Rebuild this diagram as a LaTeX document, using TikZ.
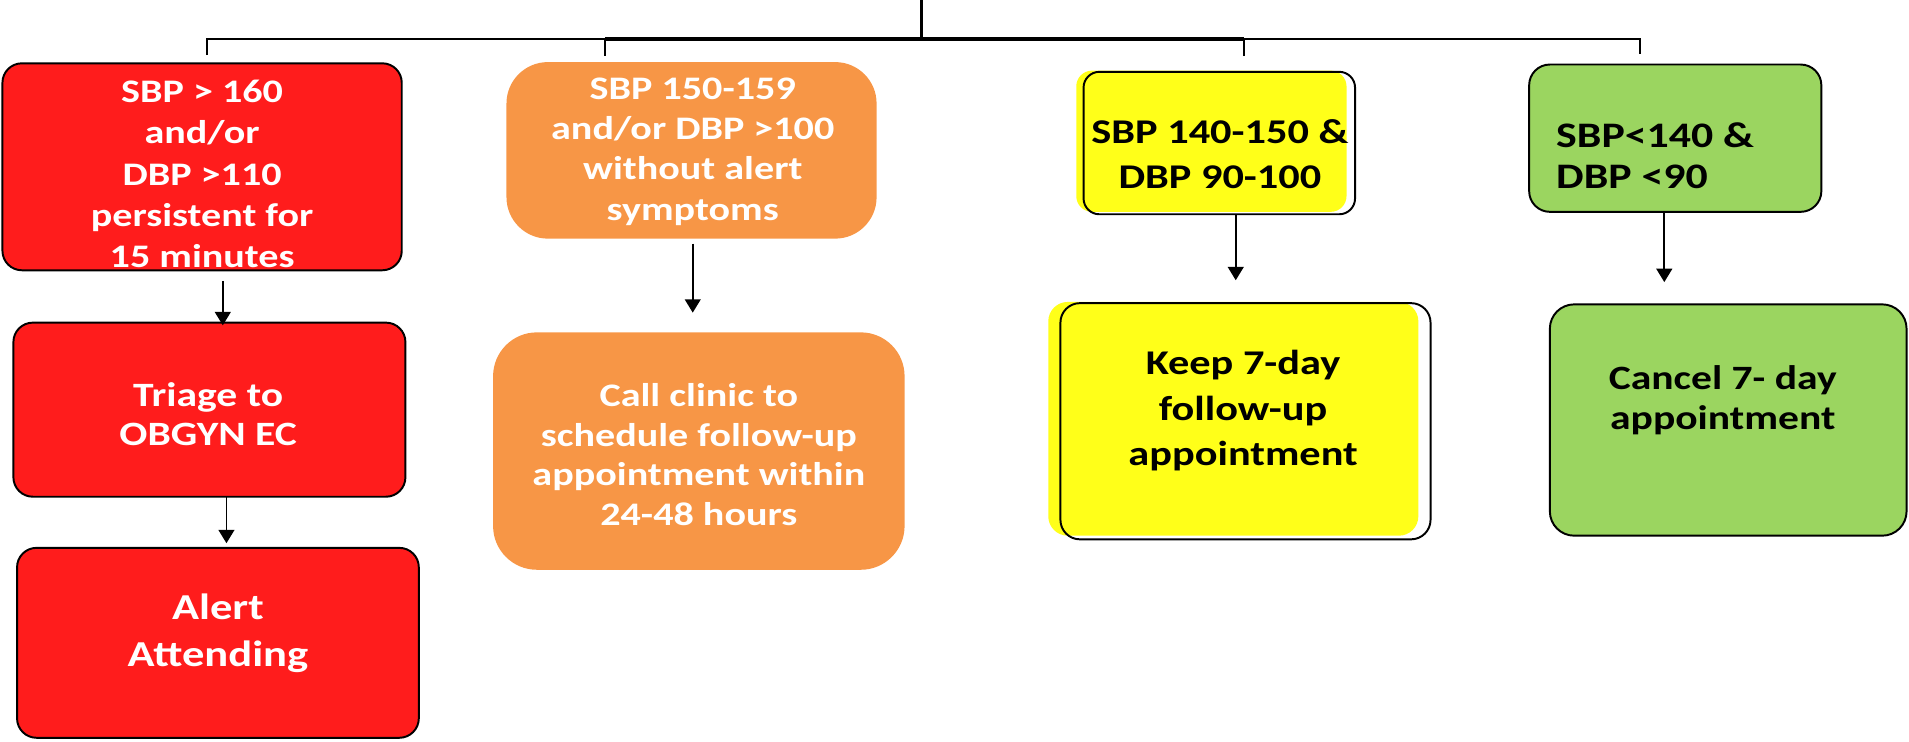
\documentclass[tikz,border=0pt]{standalone}
\usepackage{fontspec}
\setmainfont{Carlito}[FakeStretch=1.22]
\usetikzlibrary{arrows.meta,calc}
\definecolor{redc}{RGB}{255,28,28}
\definecolor{orangec}{RGB}{247,150,70}
\definecolor{yellowc}{RGB}{255,255,25}
\definecolor{greenc}{RGB}{155,213,96}
\newcommand\fsz[2]{\fontsize{#1}{#2}\selectfont\bfseries}
\begin{document}
\begin{tikzpicture}[x=1pt,y=-1pt,
  redbox/.style={draw=black, line width=1.6pt, fill=redc, rounded corners=16pt, inner sep=0pt},
  orangebox/.style={fill=orangec, rounded corners=34pt, inner sep=0pt},
  ybox/.style={draw=black, line width=1.6pt, rounded corners=13pt, inner sep=0pt},
  gbox/.style={draw=black, line width=1.6pt, fill=greenc, rounded corners=17pt, inner sep=0pt},
  wtext/.style={text=white, align=center, inner sep=0pt},
  btext/.style={text=black, align=center, inner sep=0pt},
  arr/.style={line width=1.5pt, -{Triangle[width=13pt,length=11pt]}},
  tree/.style={line width=1.8pt}]
\useasboundingbox (0,0) rectangle (1568,609);

% yellow fills (offset behind outlines)
\fill[yellowc, rounded corners=13pt] (884,58) rectangle (1106,174);
\fill[yellowc, rounded corners=16pt] (861,248) rectangle (1165,440);

% boxes
\node[redbox, minimum width=328pt, minimum height=170pt] (r1) at (166,137) {};
\node[redbox, minimum width=322pt, minimum height=143pt] (r2) at (172,336.5) {};
\node[redbox, minimum width=330pt, minimum height=156pt] (r3) at (179,528) {};
\node[orangebox, minimum width=304pt, minimum height=145pt] (o1) at (568,123.5) {};
\node[orangebox, rounded corners=36pt, minimum width=338pt, minimum height=195pt] (o2) at (574,370.5) {};
\node[ybox, minimum width=223pt, minimum height=117pt] (y1) at (1001.5,117.5) {};
\node[ybox, rounded corners=16pt, minimum width=304pt, minimum height=194pt] (y2) at (1023,346) {};
\node[gbox, minimum width=240pt, minimum height=121pt] (g1) at (1376,113.5) {};
\node[gbox, rounded corners=20pt, minimum width=293pt, minimum height=190pt] (g2) at (1419.5,345) {};

% texts
\node[wtext, font=\fsz{27}{34}] (r1t) at (166,143) {SBP > 160\\and/or\\DBP >110\\persistent for\\15 minutes};
\node[wtext, font=\fsz{28}{32}] (r2t) at (171,340) {Triage to\\OBGYN EC};
\node[wtext, font=\fsz{30}{38.5}] (r3t) at (179,520) {Alert\\Attending};
\node[wtext, font=\fsz{27}{33}] (o1t) at (569,124.5) {SBP 150-159\\and/or DBP >100\\without alert\\symptoms};
\node[wtext, font=\fsz{27}{32.5}] (o2t) at (574,373.5) {Call clinic to\\schedule follow-up\\appointment within\\24-48 hours};
\node[btext, font=\fsz{28.5}{37}] (y1t) at (1002,126.5) {SBP 140-150 \&\\DBP 90-100};
\node[btext, font=\fsz{28.5}{37.5}] (y2t) at (1021,337.5) {Keep 7-day\\follow-up\\appointment};
\node[btext, align=left, anchor=west, font=\fsz{29.5}{34}] (g1t) at (1278,128) {SBP<140 \&\\DBP <90};
\node[btext, font=\fsz{28}{33}] (g2t) at (1415,328.5) {Cancel 7- day\\appointment};

% tree at top
\coordinate (top) at (757,0);
\coordinate (hub) at (757,32);
\coordinate (d1) at ($(r1.north)+(4,-6)$);
\coordinate (d2) at ($(o1.north)+(-71,-5)$);
\coordinate (d3) at ($(y1.north)+(20.5,-12)$);
\coordinate (d4) at ($(g1.north)+(-29,-8)$);
\draw[line width=2.6pt] (top) -- (hub);
\draw[tree] (d1) |- (hub) -| (d4);
\draw[line width=2.8pt] (d2 |- hub) -- (d3 |- hub);
\draw[tree] (d2) -- (d2 |- hub);
\draw[tree] (d3) -- (d3 |- hub);

% arrows
\draw[arr] ($(r1.south)+(17,8)$) -- ($(r2.north)+(11,3)$);
\draw[arr] ($(r2.south)+(14,-1)$) -- ($(r3.north)+(7,-3)$);
\draw[arr] ($(o1.south)+(1,4)$) -- ($(o2.north)+(-5,-16)$);
\draw[arr] ($(y1.south)+(13.5,0)$) -- ($(y2.north)+(-8,-18)$);
\draw[arr] ($(g1.south)+(-9,0.5)$) -- ($(g2.north)+(-52.5,-17.5)$);
\end{tikzpicture}
\end{document}
